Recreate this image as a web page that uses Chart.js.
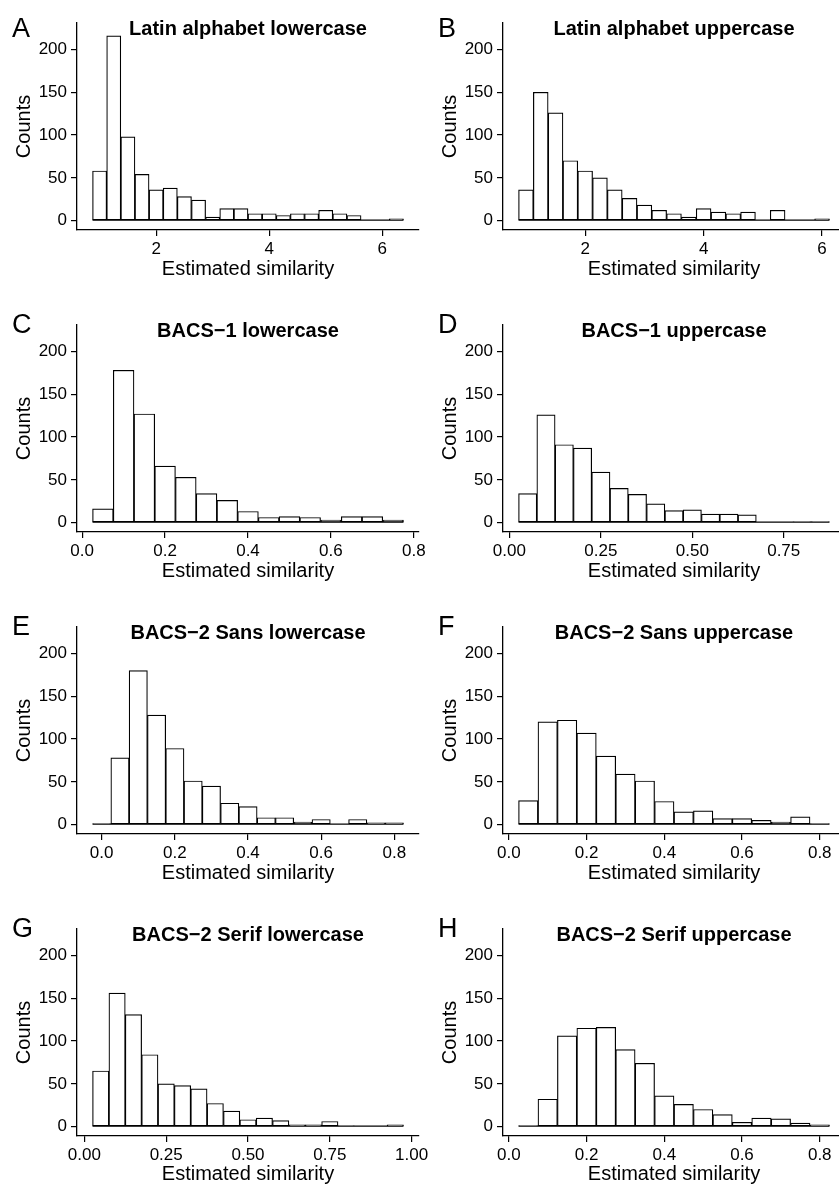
<!DOCTYPE html>
<html>
<head>
<meta charset="utf-8">
<title>Estimated similarity histograms</title>
<script src="https://cdn.jsdelivr.net/npm/chart.js@4.4.1/dist/chart.umd.min.js"></script>
<style>
  html, body { margin: 0; padding: 0; background: #fff; overflow: hidden; }
  #page { position: relative; width: 839px; height: 1186px; overflow: hidden; background: #fff; }
  #page canvas { position: absolute; }
</style>
</head>
<body>
<div id="page"></div>
<script>
// y axis ticks, same for every panel
const countTicks = [0, 50, 100, 150, 200];

// A - Latin alphabet lowercase
const latinLowerBins = [1.00, 1.25, 1.50, 1.75, 2.00, 2.25, 2.50, 2.75, 3.00, 3.25, 3.50,
                        3.75, 4.00, 4.25, 4.50, 4.75, 5.00, 5.25, 5.50, 5.75, 6.00, 6.25];
const latinLowerCounts = [58, 216, 98, 54, 36, 38, 28, 24, 4, 14, 14,
                          8, 8, 6, 8, 8, 12, 8, 6, 0, 0, 2];

// B - Latin alphabet uppercase
const latinUpperBins = [1.00, 1.25, 1.50, 1.75, 2.00, 2.25, 2.50, 2.75, 3.00, 3.25, 3.50,
                        3.75, 4.00, 4.25, 4.50, 4.75, 5.00, 5.25, 5.50, 5.75, 6.00];
const latinUpperCounts = [36, 150, 126, 70, 58, 50, 36, 26, 18, 12, 8,
                          4, 14, 10, 8, 10, 0, 12, 0, 0, 2];

const latinTicks = [2, 4, 6];
const latinTickLabels = ['2', '4', '6'];

// C - BACS-1 lowercase
const bacs1LowerBins = [0.05, 0.10, 0.15, 0.20, 0.25, 0.30, 0.35, 0.40,
                        0.45, 0.50, 0.55, 0.60, 0.65, 0.70, 0.75];
const bacs1LowerCounts = [16, 178, 127, 66, 53, 34, 26, 13, 6, 7, 6, 3, 7, 7, 3];

// D - BACS-1 uppercase
const bacs1UpperBins = [0.05, 0.10, 0.15, 0.20, 0.25, 0.30, 0.35, 0.40, 0.45,
                        0.50, 0.55, 0.60, 0.65, 0.70, 0.75, 0.80, 0.85];
const bacs1UpperCounts = [34, 126, 91, 87, 59, 40, 33, 22, 14, 15, 10, 10, 9, 0, 0, 1, 1];

// E - BACS-2 Sans lowercase
const sansLowerBins = [0.00, 0.05, 0.10, 0.15, 0.20, 0.25, 0.30, 0.35, 0.40,
                       0.45, 0.50, 0.55, 0.60, 0.65, 0.70, 0.75, 0.80];
const sansLowerCounts = [1, 78, 180, 128, 89, 51, 45, 25, 21, 8, 8, 3, 6, 0, 6, 2, 2];

// F - BACS-2 Sans uppercase
const sansUpperBins = [0.05, 0.10, 0.15, 0.20, 0.25, 0.30, 0.35, 0.40,
                       0.45, 0.50, 0.55, 0.60, 0.65, 0.70, 0.75, 0.80];
const sansUpperCounts = [28, 120, 122, 107, 80, 59, 51, 27, 15, 16, 7, 7, 5, 3, 9, 1];

// G - BACS-2 Serif lowercase
const serifLowerBins = [0.05, 0.10, 0.15, 0.20, 0.25, 0.30, 0.35, 0.40, 0.45, 0.50,
                        0.55, 0.60, 0.65, 0.70, 0.75, 0.80, 0.85, 0.90, 0.95];
const serifLowerCounts = [65, 156, 131, 84, 50, 48, 44, 27, 18, 8,
                          10, 7, 2, 2, 6, 1, 0, 0, 2];

// H - BACS-2 Serif uppercase
const serifUpperBins = [0.05, 0.10, 0.15, 0.20, 0.25, 0.30, 0.35, 0.40,
                        0.45, 0.50, 0.55, 0.60, 0.65, 0.70, 0.75, 0.80];
const serifUpperCounts = [1, 32, 106, 115, 116, 90, 74, 36, 26, 20, 14, 5, 10, 9, 4, 2];

// x ticks for the 0..1 panels
const tenthTicks = [0, 0.2, 0.4, 0.6, 0.8];
const tenthTickLabels = ['0.0', '0.2', '0.4', '0.6', '0.8'];
const quarterTicks = [0, 0.25, 0.5, 0.75, 1];
const quarterTickLabels = ['0.00', '0.25', '0.50', '0.75', '1.00'];

const fontFamily = "'Liberation Sans', Arial, Helvetica, sans-serif";
Chart.defaults.font.family = fontFamily;
Chart.defaults.color = '#000';

// page grid: canvas positions
const colLeft = [0, 420];
const rowTop = [0, 302, 604, 906];
const canvasW = 440;
const plotW = 342;
const xAxisH = 51;

//draws the zero line under empty bins, the panel title and the panel letter
const histDecor = {
  id: 'histDecor',
  afterDatasetsDraw(chart, args, opts) {
    const ctx = chart.ctx;
    const area = chart.chartArea;
    const x = chart.scales.x;
    const y = chart.scales.y;
    const pts = chart.data.datasets[0].data;
    const half = (pts[1].x - pts[0].x) / 2;
    const y0 = y.getPixelForValue(0);

    ctx.save();
    ctx.strokeStyle = '#000';
    ctx.lineWidth = 1.2;
    ctx.beginPath();
    ctx.moveTo(x.getPixelForValue(pts[0].x - half), y0 - 0.5);
    ctx.lineTo(x.getPixelForValue(pts[pts.length - 1].x + half), y0 - 0.5);
    ctx.stroke();

    ctx.fillStyle = '#000';
    ctx.textBaseline = 'alphabetic';
    ctx.textAlign = 'center';
    ctx.font = 'bold 20px ' + fontFamily;
    ctx.fillText(opts.title, (area.left + area.right) / 2, area.top + 12);

    ctx.textAlign = 'left';
    ctx.font = '27px ' + fontFamily;
    ctx.fillText(opts.letter, area.left - 65, area.top + opts.letterDy);
    ctx.restore();
  }
};

const panels = [
  { letter: 'A', title: 'Latin alphabet lowercase', bins: latinLowerBins, counts: latinLowerCounts, ticks: latinTicks, labels: latinTickLabels, col: 0, row: 0 },
  { letter: 'B', title: 'Latin alphabet uppercase', bins: latinUpperBins, counts: latinUpperCounts, ticks: latinTicks, labels: latinTickLabels, col: 1, row: 0 },
  { letter: 'C', title: 'BACS\u22121 lowercase', bins: bacs1LowerBins, counts: bacs1LowerCounts, ticks: tenthTicks, labels: tenthTickLabels, col: 0, row: 1 },
  { letter: 'D', title: 'BACS\u22121 uppercase', bins: bacs1UpperBins, counts: bacs1UpperCounts, ticks: quarterTicks, labels: quarterTickLabels, col: 1, row: 1 },
  { letter: 'E', title: 'BACS\u22122 Sans lowercase', bins: sansLowerBins, counts: sansLowerCounts, ticks: tenthTicks, labels: tenthTickLabels, col: 0, row: 2 },
  { letter: 'F', title: 'BACS\u22122 Sans uppercase', bins: sansUpperBins, counts: sansUpperCounts, ticks: tenthTicks, labels: tenthTickLabels, col: 1, row: 2 },
  { letter: 'G', title: 'BACS\u22122 Serif lowercase', bins: serifLowerBins, counts: serifLowerCounts, ticks: quarterTicks, labels: quarterTickLabels, col: 0, row: 3 },
  { letter: 'H', title: 'BACS\u22122 Serif uppercase', bins: serifUpperBins, counts: serifUpperCounts, ticks: tenthTicks, labels: tenthTickLabels, col: 1, row: 3 }
];

const page = document.getElementById('page');

//build one histogram panel
function makePanel(p) {
  const canvas = document.createElement('canvas');
  const height = p.row == 3 ? 1186 - rowTop[3] : 302;
  canvas.width = canvasW;
  canvas.height = height;
  canvas.style.left = colLeft[p.col] + 'px';
  canvas.style.top = rowTop[p.row] + 'px';
  page.appendChild(canvas);

  const axisW = p.col == 0 ? 77 : 83;
  const xH = Math.min(xAxisH, height - 230);

  //ggplot style 5% expansion around the bin edges
  const binW = p.bins[1] - p.bins[0];
  const lo = p.bins[0] - binW / 2;
  const hi = p.bins[p.bins.length - 1] + binW / 2;
  const pad = (hi - lo) * 0.05;
  const xMin = lo - pad;
  const xMax = hi + pad;

  //only the ticks that fall inside the axis range
  let tickVals = [];
  let tickText = [];
  p.ticks.forEach((v, i) => {
    if (v >= xMin && v <= xMax) {
      tickVals.push(v);
      tickText.push(p.labels[i]);
    }
  });

  new Chart(canvas, {
    type: 'bar',
    data: {
      datasets: [{
        data: p.bins.map((b, i) => ({ x: b, y: p.counts[i] })),
        backgroundColor: '#fff',
        borderColor: '#000',
        borderWidth: 1.2,
        borderSkipped: false,
        barPercentage: 1,
        categoryPercentage: 1
      }]
    },
    options: {
      responsive: false,
      animation: false,
      events: [],
      layout: {
        padding: { top: 23, left: 0, right: canvasW - axisW - plotW, bottom: height - 230 - xH }
      },
      plugins: {
        legend: { display: false },
        tooltip: { enabled: false },
        histDecor: { title: p.title, letter: p.letter, letterDy: p.row == 0 ? 14 : 8 }
      },
      scales: {
        x: {
          type: 'linear',
          min: xMin,
          max: xMax,
          offset: false,
          afterBuildTicks: s => { s.ticks = tickVals.map(v => ({ value: v })); },
          afterFit: s => { s.height = xH; },
          ticks: {
            autoSkip: false,
            maxRotation: 0,
            padding: 3,
            font: { size: 17 },
            callback: (v, i) => tickText[i]
          },
          grid: { offset: false, drawOnChartArea: false, tickLength: 6, color: '#000', lineWidth: 1.2 },
          border: { display: true, color: '#000', width: 1.3 },
          title: { display: true, text: 'Estimated similarity', font: { size: 20 }, padding: { top: 0, bottom: 0 } }
        },
        y: {
          min: -11,
          max: 231,
          afterBuildTicks: s => { s.ticks = countTicks.map(v => ({ value: v })); },
          afterFit: s => { s.width = axisW; },
          ticks: { padding: 4, font: { size: 17 } },
          grid: { offset: false, drawOnChartArea: false, tickLength: 6, color: '#000', lineWidth: 1.2 },
          border: { display: true, color: '#000', width: 1.3 },
          title: { display: true, text: 'Counts', font: { size: 20 }, padding: { top: axisW - 53 - 12, bottom: 0 } }
        }
      }
    },
    plugins: [histDecor]
  });
}

panels.forEach(makePanel);
</script>
</body>
</html>
